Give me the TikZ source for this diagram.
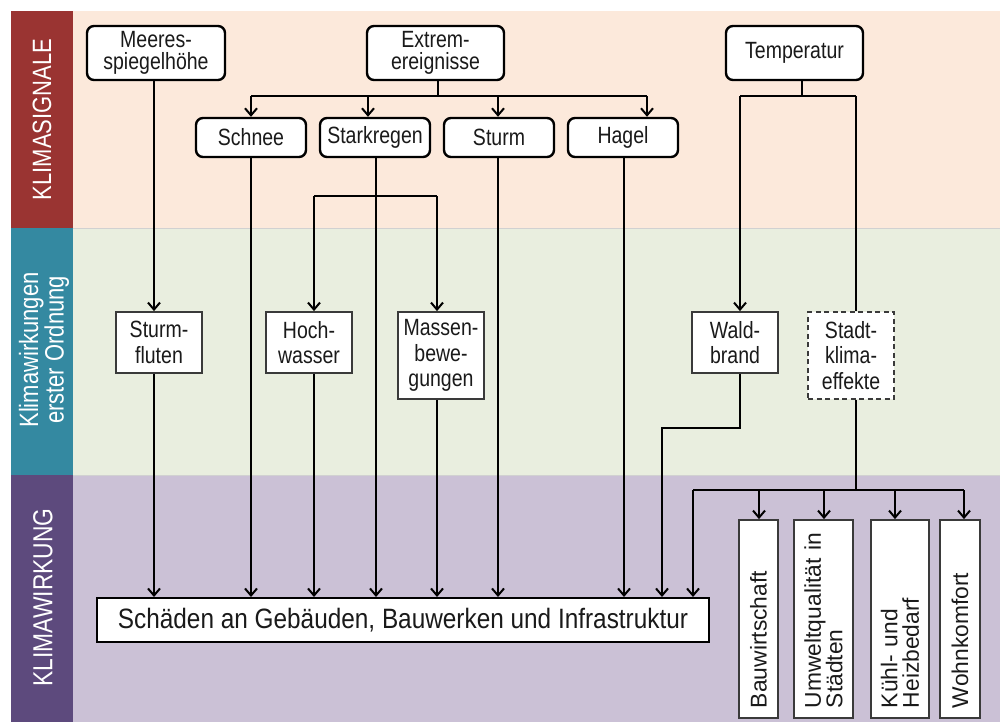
\documentclass[tikz,border=0pt]{standalone}
\usepackage{fontspec}
\setmainfont{Liberation Sans}
\newfontfamily\cnd[FakeStretch=0.83]{Liberation Sans}
\newfontfamily\cndb[FakeStretch=0.87]{Liberation Sans}
\usetikzlibrary{arrows.meta}
\definecolor{peach}{HTML}{FCE9DB}
\definecolor{pale}{HTML}{E9EEDF}
\definecolor{lav}{HTML}{CBC1D6}
\definecolor{bandred}{HTML}{9A3432}
\definecolor{bandteal}{HTML}{3489A1}
\definecolor{bandpurple}{HTML}{5D4A7D}
\definecolor{txt}{HTML}{1A1A1A}
\definecolor{boxgray}{HTML}{3A3A3A}
\begin{document}
\begin{tikzpicture}[x=1pt,y=-1pt,
  topbox/.style={draw=black, line width=2.4pt, rounded corners=7pt, fill=white, align=center, inner sep=0pt, text=txt, font=\cnd\fontsize{23.5}{21.5}\selectfont},
  midbox/.style={draw=boxgray, line width=1.8pt, fill=white, align=center, inner sep=0pt, minimum width=86pt, text=txt, font=\cnd\fontsize{23.5}{25.5}\selectfont},
  vbox/.style={draw=boxgray, line width=1.8pt, fill=white, rotate=90, minimum width=198pt, text width=178pt, align=left, inner xsep=10pt, inner ysep=0pt, text=txt, font=\fontsize{22.8}{21.5}\selectfont},
  band/.style={rotate=90, text=white, align=center, inner sep=0pt, font=\cnd\fontsize{26.5}{25.5}\selectfont},
  ln/.style={line width=2pt, draw=black},
  arr/.style={line width=2pt, draw=black, -{Straight Barb[length=7pt,width=12pt]}}
]
\useasboundingbox (0,0) rectangle (1000,722);
\fill[white] (0,0) rectangle (1000,722);
% backgrounds
\fill[peach] (73,11) rectangle (1000,228);
\fill[pale] (73,228) rectangle (1000,475);
\fill[lav] (73,475) rectangle (1000,722);
\fill[bandred] (11,11) rectangle (73,228);
\fill[bandteal] (11,228) rectangle (73,475);
\fill[bandpurple] (11,475) rectangle (73,722);
\draw[black!18, line width=0.8pt] (73,228) -- (1000,228);
\draw[black!18, line width=0.8pt] (73,475) -- (1000,475);

% band labels
\node[band] (lab1) at (42,119.5) {KLIMASIGNALE};
\node[band] (lab2) at (44,350) {Klimawirkungen\\erster Ordnung};
\node[band, font=\cnd\fontsize{27.5}{26}\selectfont] (lab3) at (43,597.5) {KLIMAWIRKUNG};

% top row
\node[topbox, minimum width=138pt, minimum height=54pt] (meer) at (156,53) {Meeres-\\spiegelhöhe};
\node[topbox, minimum width=137pt, minimum height=54pt] (extrem) at (435.5,53) {Extrem-\\ereignisse};
\node[topbox, minimum width=137pt, minimum height=54pt] (temp) at (794.5,53) {Temperatur};

% second row
\node[topbox, minimum width=110pt, minimum height=39pt] (schnee) at (251,137.5) {Schnee};
\node[topbox, minimum width=110pt, minimum height=39pt] (stark) at (375,137.5) {Starkregen};
\node[topbox, minimum width=110pt, minimum height=39pt] (sturm) at (499,137.5) {Sturm};
\node[topbox, minimum width=110pt, minimum height=39pt] (hagel) at (623,137.5) {Hagel};

% middle row
\node[midbox, minimum height=61pt] (sfl) at (159,342.5) {Sturm-\\fluten};
\node[midbox, minimum height=61pt] (hoch) at (309,342.5) {Hoch-\\wasser};
\node[midbox, minimum height=87pt] (massen) at (441,355.5) {Massen-\\bewe-\\gungen};
\node[midbox, minimum height=61pt] (wald) at (735,342.5) {Wald-\\brand};
\node[midbox, minimum height=87pt, dash pattern=on 5pt off 3.5pt] (stadt) at (851,355.5) {Stadt-\\klima-\\effekte};

% damage box
\node[draw=black, line width=2pt, fill=white, minimum width=612pt, minimum height=44pt, inner sep=0pt, text=txt, font=\cndb\fontsize{28}{30}\selectfont] (dmg) at (403,620) {Schäden an Gebäuden, Bauwerken und Infrastruktur};

% bottom vertical boxes
\node[vbox, minimum height=39pt] (bau) at (758.5,619) {Bauwirtschaft};
\node[vbox, minimum height=59pt] (umw) at (823.5,619) {Umweltqualität in\\Städten};
\node[vbox, minimum height=58pt] (kuehl) at (900,619) {Kühl- und\\Heizbedarf};
\node[vbox, minimum height=40pt] (wohn) at (960,619) {Wohnkomfort};

% coordinates
\coordinate (xm) at (154,0);
\coordinate (eb) at (438,96);
\coordinate (bS) at (251,96);
\coordinate (bK) at (368,96);
\coordinate (bSt) at (498,96);
\coordinate (bH) at (647,96);
\coordinate (xK) at (376,0);
\coordinate (xh) at (624,0);
\coordinate (kH) at (314,196);
\coordinate (kM) at (437,196);
\coordinate (tb) at (802,96);
\coordinate (tW) at (740,96);
\coordinate (tS) at (856,96);
\coordinate (w1) at (740,428);
\coordinate (w2) at (662,428);
\coordinate (s1) at (856,490);
\coordinate (sL) at (693,490);
\coordinate (sR) at (964,490);
\coordinate (sB) at (759,490);
\coordinate (sU) at (824,490);
\coordinate (sK) at (895,490);

% Meeresspiegel
\draw[arr] (meer.south -| xm) -- (xm |- sfl.north);
\draw[arr] (sfl.south -| xm) -- (xm |- dmg.north);

% Extremereignisse
\draw[ln] (extrem.south -| eb) -- (eb);
\draw[ln] (bS) -- (bH);
\draw[arr] (bS) -- (bS |- schnee.north);
\draw[arr] (bK) -- (bK |- stark.north);
\draw[arr] (bSt) -- (bSt |- sturm.north);
\draw[arr] (bH) -- (bH |- hagel.north);

% Schnee, Sturm, Hagel
\draw[arr] (schnee.south -| bS) -- (bS |- dmg.north);
\draw[arr] (sturm.south -| bSt) -- (bSt |- dmg.north);
\draw[arr] (hagel.south -| xh) -- (xh |- dmg.north);

% Starkregen
\draw[arr] (stark.south -| xK) -- (xK |- dmg.north);
\draw[ln] (kH) -- (kM);
\draw[arr] (kH) -- (kH |- hoch.north);
\draw[arr] (kM) -- (kM |- massen.north);
\draw[arr] (hoch.south -| kH) -- (kH |- dmg.north);
\draw[arr] (massen.south -| kM) -- (kM |- dmg.north);

% Temperatur
\draw[ln] (temp.south -| tb) -- (tb);
\draw[ln] (tW) -- (tS);
\draw[arr] (tW) -- (tW |- wald.north);
\draw[ln] (tS) -- (tS |- stadt.north);

% Waldbrand
\draw[arr] (wald.south -| w1) -- (w1) -- (w2) -- (w2 |- dmg.north);

% Stadtklima
\draw[ln] (stadt.south -| s1) -- (s1);
\draw[ln] (sL) -- (sR);
\draw[arr] (sL) -- (sL |- dmg.north);
\draw[arr] (sB) -- (sB |- bau.east);
\draw[arr] (sU) -- (sU |- umw.east);
\draw[arr] (sK) -- (sK |- kuehl.east);
\draw[arr] (sR) -- (sR |- wohn.east);
\end{tikzpicture}
\end{document}
